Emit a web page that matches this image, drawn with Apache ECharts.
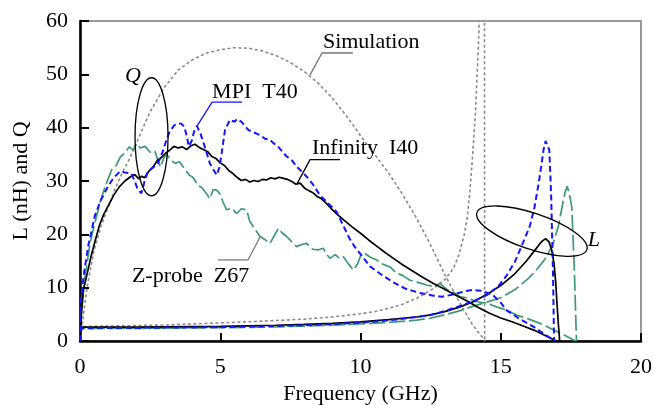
<!DOCTYPE html>
<html>
<head>
<meta charset="utf-8">
<script src="https://cdn.jsdelivr.net/npm/echarts@6/dist/echarts.min.js"></script>
<style>
html,body{margin:0;padding:0;background:#fff;}
#chart{width:654px;height:405px;}
</style>
</head>
<body>
<div id="chart"></div>
<script>
// ---- data (frequency GHz, value) ----
var xTicks = [0, 5, 10, 15, 20];
var yTicks = [0, 10, 20, 30, 40, 50, 60];

var simQ = [[0,0],[0.1,4],[0.25,10],[0.5,17],[0.75,21.5],[1,25],[1.25,28.5],[1.5,31.5],[1.75,34],[2,37],[2.5,43],[3,47.5],[3.5,50.8],[4,52.7],[4.5,54],[5,54.6],[5.5,55],[6,54.9],[6.5,54.4],[7,53.5],[7.5,52.2],[8,50.5],[8.5,48.3],[9,45.5],[9.5,42.2],[10,38.5],[10.5,35],[11,31.5],[11.5,27.5],[12,23],[12.5,18],[13,12.5],[13.5,7.5],[14,3],[14.45,0]];
var simL = [[0,0],[0.05,2.7],[1,2.8],[2,2.9],[3,3.0],[4,3.2],[5,3.4],[6,3.6],[7,3.85],[8,4.1],[9,4.5],[10,5.1],[10.5,5.5],[11,6.1],[11.5,6.9],[12,8],[12.5,9.5],[13,11.5],[13.3,13.5],[13.5,16],[13.7,20],[13.8,23],[13.9,28],[14.0,35],[14.1,43],[14.2,55],[14.25,62],[14.3,75],[14.4,300],[14.45,-300]];

var infQ = [[0,0],[0.05,5],[0.12,9.5],[0.25,12.5],[0.4,16],[0.55,19],[0.7,21.8],[0.85,23.8],[1,25.3],[1.2,27.3],[1.4,28.9],[1.6,30],[1.8,30.8],[1.95,31.2],[2.1,30.4],[2.2,30.9],[2.3,30.6],[2.45,31.8],[2.6,32.6],[2.75,33.8],[2.9,34.4],[3.05,35.2],[3.2,35.8],[3.35,36.5],[3.5,36.2],[3.65,36.4],[3.8,35.9],[3.95,36.6],[4.1,36.9],[4.25,36.3],[4.4,35.9],[4.55,35.5],[4.7,34.6],[4.85,34.2],[5.0,33.4],[5.15,32.9],[5.3,32],[5.45,31.4],[5.6,30.7],[5.75,30.1],[5.9,30.3],[6.05,29.8],[6.2,30.1],[6.35,29.9],[6.5,30.3],[6.65,30.2],[6.8,30.6],[6.95,30.4],[7.1,30.7],[7.25,30.5],[7.4,30.3],[7.55,29.9],[7.7,29.4],[7.85,29.6],[8.0,28.7],[8.15,28.2],[8.3,27.8],[8.45,27.1],[8.6,26.7],[8.8,25.7],[9.0,24.6],[9.2,23.6],[9.4,22.7],[9.7,21.4],[10,20.2],[10.3,18.9],[10.6,17.7],[10.9,16.5],[11.2,15.4],[11.5,14.3],[11.8,13.3],[12.2,12],[12.6,10.8],[13.0,9.7],[13.4,8.6],[13.8,7.5],[14.2,6.3],[14.6,5.2],[15.0,4.3],[15.4,3.6],[15.8,2.8],[16.2,2],[16.6,1.0],[16.9,0.2],[17.0,0]];
var infL = [[0,0],[0.05,2.6],[1,2.6],[2,2.6],[3,2.65],[4,2.7],[5,2.75],[6,2.85],[7,2.95],[8,3.1],[9,3.3],[10,3.6],[11,4.0],[12,4.5],[12.5,4.9],[13,5.5],[13.5,6.3],[14,7.3],[14.5,8.7],[15,10.4],[15.5,12.6],[15.9,14.9],[16.2,16.9],[16.45,18.6],[16.6,19.2],[16.72,18.6],[16.82,17],[16.9,14.5],[16.96,11],[17.0,7.5],[17.05,3.5],[17.1,0]];

var mpiQ = [[0,0],[0.03,7.7],[0.15,13],[0.3,18],[0.53,23.5],[0.75,26.5],[1.0,29],[1.2,30.6],[1.43,31.8],[1.6,31.6],[1.83,31.4],[1.95,30],[2.05,28.5],[2.19,27.7],[2.3,29.9],[2.42,31.8],[2.6,32.5],[2.78,33.3],[2.95,35.5],[3.08,37.7],[3.2,39.3],[3.37,40.5],[3.6,40.8],[3.72,40.2],[3.8,38.5],[3.88,36.5],[3.98,37.5],[4.08,39.5],[4.17,40.3],[4.3,38.8],[4.45,36.4],[4.63,33.3],[4.87,31.1],[4.97,32.5],[5.05,35.2],[5.17,39.6],[5.35,41.5],[5.5,41.1],[5.6,41.6],[5.76,41.1],[5.9,40.2],[6.0,39.6],[6.2,39.1],[6.42,38.6],[6.6,37.9],[6.75,37.8],[6.9,37.1],[7.05,36.5],[7.2,35.6],[7.37,34.6],[7.55,33.9],[7.72,32.7],[7.9,31.8],[8.08,30.8],[8.3,29.4],[8.56,27.3],[8.85,25.8],[9.15,24.2],[9.4,21.5],[9.6,19.3],[9.8,17.6],[10.0,16.3],[10.34,14],[10.7,12.6],[11.17,11],[11.6,9.8],[12.12,9],[12.6,8.5],[12.9,8.3],[13.3,8.7],[13.7,9.3],[14.0,9.6],[14.3,9.4],[14.7,8.7],[15.0,7.2],[15.2,5.8],[15.6,4.4],[16.16,2.7],[16.5,1.5],[16.87,0.2],[16.9,0]];
var mpiL = [[0,0],[0.05,2.4],[1,2.45],[2,2.45],[3,2.5],[4,2.55],[5,2.6],[6,2.7],[7,2.8],[8,2.95],[9,3.15],[10,3.45],[11,3.85],[12,4.5],[12.5,4.9],[13,5.6],[13.5,6.5],[14,7.4],[14.5,8.6],[14.9,10.2],[15.2,12.2],[15.5,14.8],[15.8,18.5],[16.04,21.6],[16.2,25],[16.35,29.5],[16.45,33],[16.53,36],[16.6,37.5],[16.67,37.3],[16.73,35.8],[16.77,31],[16.8,26.5],[16.83,20],[16.86,13.5],[16.88,7],[16.9,0]];

var zprQ = [[0,0],[0.05,6],[0.15,11],[0.36,18.4],[0.5,21.5],[0.71,25.9],[0.9,29],[1.13,32.1],[1.3,33],[1.45,34.6],[1.6,35.2],[1.75,36.4],[1.9,35.8],[2.02,37],[2.15,36.2],[2.32,36.5],[2.5,35.4],[2.67,35.6],[2.8,33.5],[2.87,32.6],[3.0,34.5],[3.09,35],[3.2,34.2],[3.39,33.3],[3.55,33.6],[3.74,32.2],[3.9,31.1],[4.04,30.6],[4.2,29.2],[4.34,28.8],[4.5,27.7],[4.63,26.7],[4.75,28.4],[4.87,28.3],[4.99,27.6],[5.1,26],[5.23,24.6],[5.4,24.9],[5.59,23.9],[5.75,24.8],[5.94,24.6],[6.05,22.5],[6.18,21.4],[6.3,20.5],[6.42,19.6],[6.6,19],[6.77,18.3],[6.9,19.5],[7.07,21.1],[7.2,20.3],[7.37,19.6],[7.55,18.6],[7.72,17.7],[7.9,18.1],[8.08,18.3],[8.3,17.2],[8.5,17.1],[8.67,17.4],[8.8,16.2],[8.91,15.5],[9.1,16.2],[9.25,15.5],[9.39,15.8],[9.55,14.6],[9.74,13.3],[9.9,14.5],[10.05,16.6],[10.16,16.4],[10.35,15.7],[10.58,15.2],[10.8,14.4],[11.05,13.9],[11.29,12.7],[11.5,12.3],[11.76,11.4],[12.05,11],[12.36,10.5],[12.6,10.2],[12.83,10.8],[13.1,9.6],[13.3,9.2],[13.55,8.3],[13.8,8.1],[14.1,7.4],[14.5,7.1],[14.85,6.4],[15.2,5.8],[15.6,4.8],[16.0,4.1],[16.4,3.3],[16.8,2.3],[17.2,1.3],[17.6,0.2],[17.7,0]];
var zprL = [[0,0],[0.05,2.3],[1,2.35],[2,2.35],[3,2.4],[4,2.45],[5,2.5],[6,2.55],[7,2.65],[8,2.8],[9,2.95],[10,3.2],[11,3.5],[12,3.9],[12.5,4.3],[13,4.9],[13.5,5.6],[14,6.5],[14.5,7.3],[15,8.1],[15.5,9.6],[16,11.8],[16.3,13.5],[16.6,15.5],[16.85,18],[17.05,21.4],[17.2,25.5],[17.3,28],[17.37,29],[17.45,27.5],[17.53,25.2],[17.58,19],[17.62,13.9],[17.66,7],[17.7,0]];

var seriesNames = ['Simulation', 'MPI  T40', 'Infinity  I40', 'Z-probe  Z67'];

// ---- chart ----
var FONT = '"Liberation Serif", "Times New Roman", serif';
var chart = echarts.init(document.getElementById('chart'), null, {renderer: 'canvas'});

function lineSeries(data, color, width, dash) {
  return {
    type: 'line', data: data, showSymbol: false, symbol: 'none', smooth: false,
    clip: true, animation: false, silent: true,
    lineStyle: {color: color, width: width, type: dash, cap: 'butt'}
  };
}
var cSim = '#8a8a8a', cInf = '#000000', cMpi = '#1414ff', cZpr = '#3f9a74';

var option = {
  backgroundColor: '#ffffff',
  animation: false,
  grid: {left: 80, right: 13, top: 21, bottom: 64, containLabel: false, outerBoundsMode: 'none',
    show: true, borderColor: '#7a7a7a', borderWidth: 1.5, backgroundColor: 'transparent'},
  xAxis: {
    type: 'value', min: xTicks[0], max: xTicks[xTicks.length-1], interval: 5,
    name: 'Frequency (GHz)', nameLocation: 'middle', nameGap: 42,
    nameTextStyle: {fontFamily: FONT, fontSize: 22, color: '#000'},
    axisLine: {show: true, onZero: false, lineStyle: {color: '#000', width: 2.5}},
    axisTick: {show: true, inside: true, length: 8, lineStyle: {color: '#000', width: 2}},
    axisLabel: {fontFamily: FONT, fontSize: 22, color: '#000', margin: 15},
    splitLine: {show: false}
  },
  yAxis: {
    type: 'value', min: yTicks[0], max: yTicks[yTicks.length-1], interval: 10,
    name: 'L (nH) and Q', nameLocation: 'middle', nameGap: 48,
    nameTextStyle: {fontFamily: FONT, fontSize: 22, color: '#000'},
    axisLine: {show: true, onZero: false, lineStyle: {color: '#000', width: 2.5}},
    axisTick: {show: true, inside: true, length: 9, lineStyle: {color: '#000', width: 2}},
    axisLabel: {fontFamily: FONT, fontSize: 22, color: '#000', margin: 12},
    splitLine: {show: false}
  },
  series: [
    lineSeries(simQ, cSim, 1.6, [3, 2.5]),
    lineSeries(simL, cSim, 1.6, [3, 2.5]),
    lineSeries(zprQ, cZpr, 1.7, [16, 4]),
    lineSeries(zprL, cZpr, 1.7, [16, 4]),
    lineSeries(infQ, cInf, 1.7, 'solid'),
    lineSeries(infL, cInf, 1.7, 'solid'),
    lineSeries(mpiQ, cMpi, 2, [6, 3.5]),
    lineSeries(mpiL, cMpi, 2, [6, 3.5])
  ]
};
chart.setOption(option);

// ---- annotations placed via data coordinates ----
function P(f, v) { return chart.convertToPixel({gridIndex: 0}, [f, v]); }
function leader(pts, color) {
  return {type: 'polyline', silent: true, z: 10,
    shape: {points: pts.map(function (p) { return P(p[0], p[1]); })},
    style: {stroke: color, lineWidth: 1.3, fill: null}};
}
function label(text, f, v, italic) {
  var p = P(f, v);
  return {type: 'text', x: p[0], y: p[1], silent: true, z: 11,
    style: {text: text, font: (italic ? 'italic ' : '') + '22px ' + FONT, fill: '#000',
      textAlign: 'left', textVerticalAlign: 'middle', backgroundColor: 'transparent'}};
}
var qc = P(2.55, 38.3);
var lc = P(16.11, 20.6);
var graphics = [
  label(seriesNames[0], 8.66, 56.1),
  leader([[9.73, 54.0], [8.63, 54.0], [8.2, 49.9]], '#777'),
  label(seriesNames[1], 4.71, 46.7),
  leader([[5.78, 44.8], [4.71, 44.8], [4.17, 40.3]], cMpi),
  label(seriesNames[2], 8.27, 36.2),
  leader([[9.27, 34.0], [8.2, 34.0], [7.74, 29.5]], '#000'),
  label(seriesNames[3], 1.85, 12.2),
  leader([[4.92, 15.2], [5.99, 15.2], [6.42, 19.5]], '#777'),
  label('Q', 1.6, 49.7, true),
  label('L', 18.1, 18.95, true),
  {type: 'ellipse', silent: true, z: 10, x: qc[0], y: qc[1],
    shape: {cx: 0, cy: 0, rx: 16.5, ry: 59},
    style: {stroke: '#000', lineWidth: 1.3, fill: null}},
  {type: 'ellipse', silent: true, z: 10, x: lc[0], y: lc[1], rotation: -0.325,
    shape: {cx: 0, cy: 0, rx: 58, ry: 18},
    style: {stroke: '#000', lineWidth: 1.3, fill: null}}
];
chart.setOption({graphic: graphics});
</script>
</body>
</html>
